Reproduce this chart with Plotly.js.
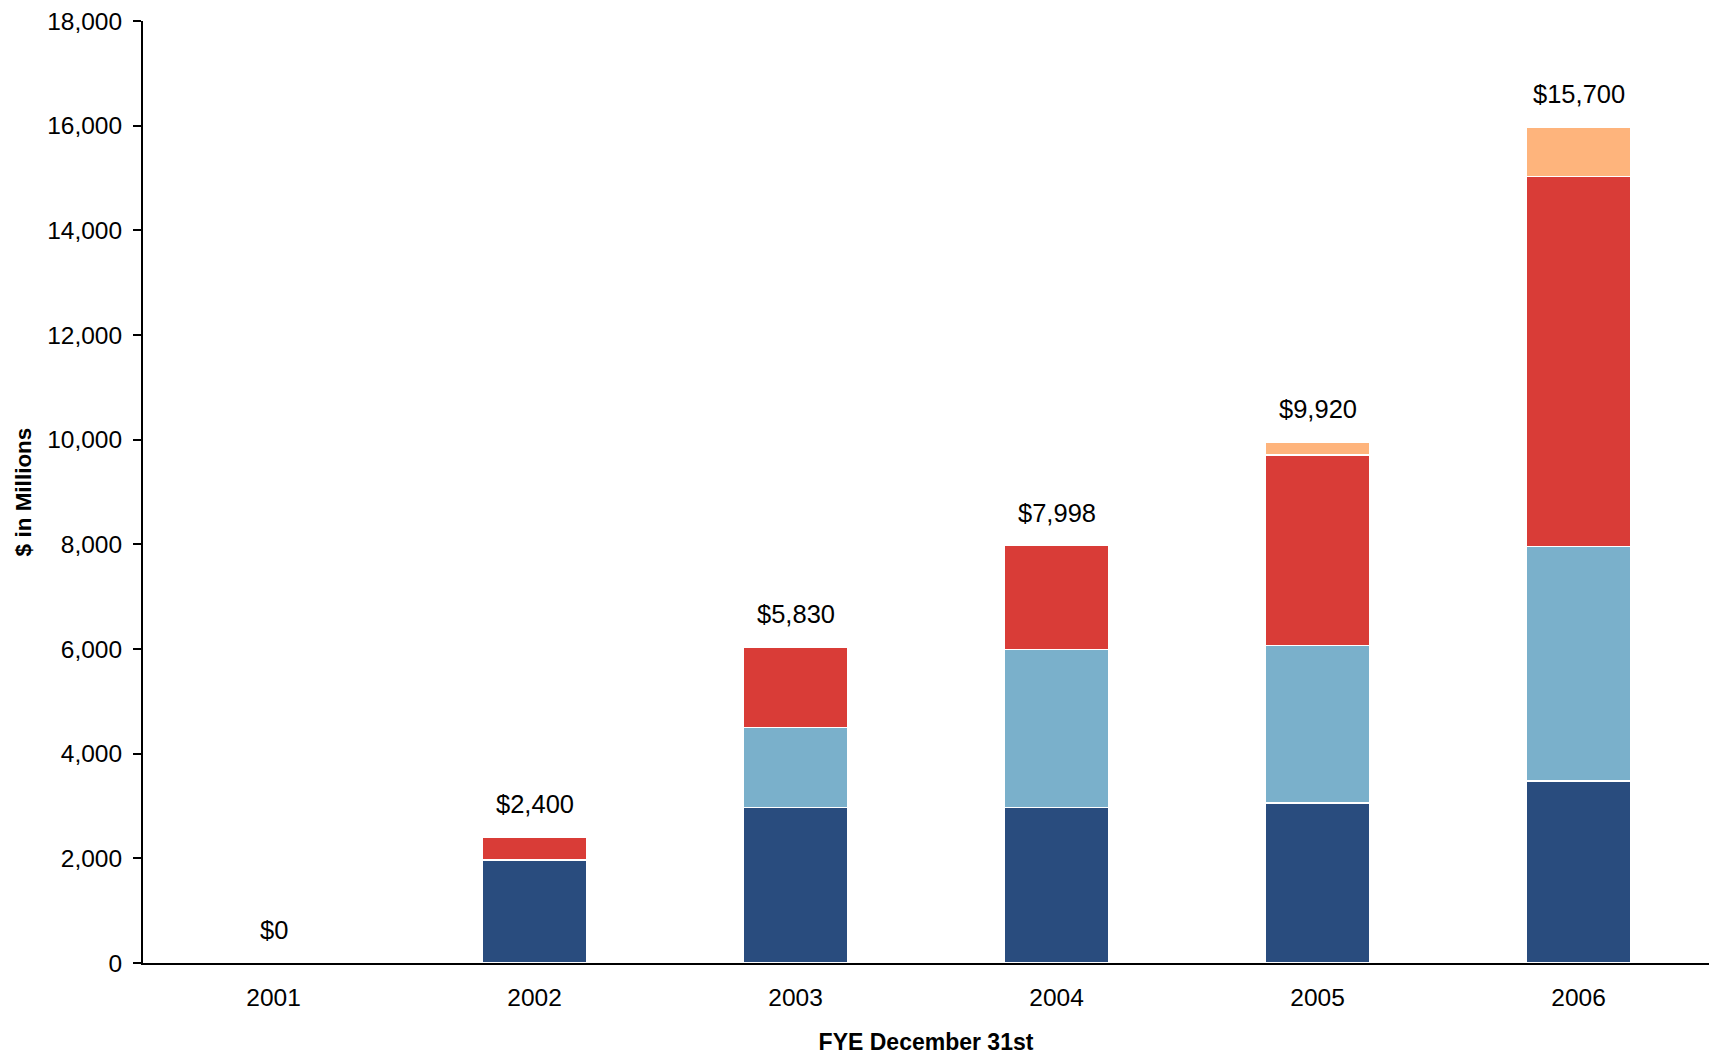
<!DOCTYPE html>
<html>
<head>
<meta charset="utf-8">
<script src="https://cdn.plot.ly/plotly-3.0.1.min.js"></script>
<style>html,body{margin:0;padding:0;background:#fff;}#chart{width:1712px;height:1055px;}</style>
</head>
<body>
<div id="chart"></div>
<script>
const years = [2001, 2002, 2003, 2004, 2005, 2006];
const seriesNavy = [0, 1970, 2970, 2970, 3055, 3475];
const seriesLightBlue = [0, 0, 1530, 3020, 3015, 4480];
const seriesRed = [0, 430, 1530, 1985, 3640, 7070];
const seriesOrange = [0, 0, 0, 0, 250, 945];
const totalLabels = ["$0", "$2,400", "$5,830", "$7,998", "$9,920", "$15,700"];

const colors = ["#294c7e", "#7ab0cb", "#d93c37", "#feb47c"];
const allSeries = [seriesNavy, seriesLightBlue, seriesRed, seriesOrange];

const traces = allSeries.map((vals, i) => ({
  type: "bar",
  x: years,
  y: vals,
  width: 0.4,
  marker: { color: colors[i], line: { color: "#ffffff", width: 1.5 } },
  showlegend: false
}));

const stackTops = years.map((_, j) => allSeries.reduce((s, arr) => s + arr[j], 0));

const annotations = years.map((yr, j) => ({
  x: yr,
  y: stackTops[j],
  xref: "x",
  yref: "y",
  text: totalLabels[j],
  showarrow: false,
  yanchor: "middle",
  yshift: 33,
  font: { family: "Liberation Sans, Arial, sans-serif", size: 25.5, color: "#000" }
}));

const layout = {
  width: 1712,
  height: 1055,
  barmode: "stack",
  margin: { l: 143, r: 3, t: 21, b: 92 },
  paper_bgcolor: "#fff",
  plot_bgcolor: "#fff",
  font: { family: "Liberation Sans, Arial, sans-serif", size: 24, color: "#000" },
  xaxis: {
    range: [2000.5, 2006.5],
    tickmode: "array",
    tickvals: years,
    ticktext: years.map(String),
    showline: true,
    linecolor: "#000",
    linewidth: 2,
    ticks: "outside",
    ticklen: 12,
    tickcolor: "rgba(0,0,0,0)",
    showgrid: false,
    zeroline: false,
    tickfont: { size: 24.5 },
    title: { text: "<b>FYE December 31st</b>", font: { size: 23 }, standoff: 25 }
  },
  yaxis: {
    range: [0, 18000],
    dtick: 2000,
    tick0: 0,
    tickformat: ",d",
    showline: true,
    linecolor: "#000",
    linewidth: 2,
    ticks: "outside",
    ticklen: 8,
    tickwidth: 2,
    tickcolor: "#000",
    ticklabelstandoff: 6,
    showgrid: false,
    zeroline: false,
    tickfont: { size: 24.5 },
    title: { text: "<b>$ in Millions</b>", font: { size: 22.5 }, standoff: 9 }
  },
  annotations: annotations
};

Plotly.newPlot("chart", traces, layout, { displayModeBar: false });
</script>
</body>
</html>
